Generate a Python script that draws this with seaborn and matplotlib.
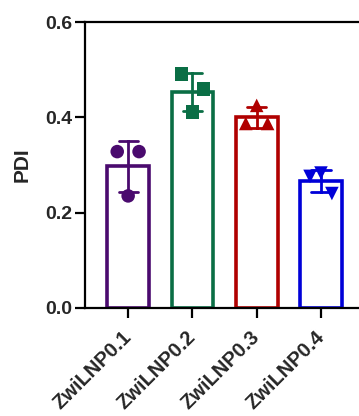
import pandas as pd
import matplotlib
matplotlib.use("Agg")
import matplotlib.pyplot as plt
import seaborn as sns

# Replicate PDI values (3 per formulation)
groups = ["ZwiLNP0.1", "ZwiLNP0.2", "ZwiLNP0.3", "ZwiLNP0.4"]
rep1 = [0.328, 0.491, 0.387, 0.276]
rep2 = [0.328, 0.459, 0.387, 0.240]
rep3 = [0.235, 0.411, 0.425, 0.283]
yticks = [0.0, 0.2, 0.4, 0.6]

colors = ["#4a0a6e", "#0a6e45", "#b00000", "#0000d8"]
markers = ["o", "s", "^", "v"]
offsets = [-0.17, 0.17, 0.0]  # horizontal spread of replicate points

rows = []
for i, g in enumerate(groups):
    for r, vals in enumerate([rep1, rep2, rep3]):
        rows.append({"group": g, "pdi": vals[i], "xpos": i + offsets[r]})
df = pd.DataFrame(rows)

sns.set_style("ticks")
plt.rcParams["font.family"] = ["Liberation Sans", "DejaVu Sans"]
plt.rcParams["font.weight"] = "bold"

fig = plt.figure(figsize=(3.59, 4.16), dpi=100)
ax = fig.add_axes([0.237, 0.26, 0.777, 0.687])

pal = dict(zip(groups, colors))
sns.barplot(data=df, x="group", y="pdi", hue="group", palette=pal, order=groups,
            fill=False, width=0.65, linewidth=2.6, errorbar="sd", capsize=0.3,
            err_kws={"linewidth": 2.0}, legend=False, ax=ax)

sns.scatterplot(data=df, x="xpos", y="pdi", hue="group", style="group",
                palette=pal, markers=dict(zip(groups, markers)), s=95,
                edgecolor="none", legend=False, ax=ax, zorder=3)

ax.set_xlim(-0.67, 3.67)
ax.set_ylim(0, 0.6)
ax.set_yticks(yticks)
ax.set_yticklabels([f"{v:.1f}" for v in yticks], fontsize=14, fontweight="bold")
ax.set_xticks(range(len(groups)))
ax.set_xticklabels(groups, rotation=45, ha="right", va="center",
                   rotation_mode="anchor", fontsize=14.5, fontweight="bold")
ax.set_xlabel("")
ax.set_ylabel("PDI", fontsize=15, fontweight="bold", labelpad=10)
for s in ax.spines.values():
    s.set_linewidth(1.6)
    s.set_color("black")
ax.tick_params(axis="both", width=1.6, length=7, color="black")
ax.tick_params(axis="y", pad=2)
ax.tick_params(axis="x", pad=12)

fig.savefig("out.png", dpi=100)
